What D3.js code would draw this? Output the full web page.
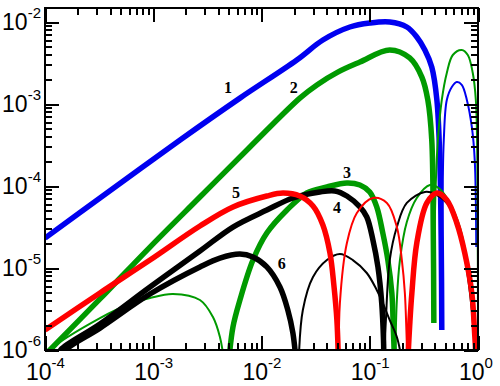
<!DOCTYPE html>
<html lang="en">
<head>
<meta charset="utf-8">
<title>Log-log curves 1-6</title>
<style type="text/css">
	body { margin: 0; background-color: white; }
	svg { display: block; background-color: white; }
	.frame { fill: none; stroke: black; stroke-width: 2; }
	.axis path { display: none; }
	.axis line { stroke: black; stroke-width: 2; shape-rendering: crispEdges; }
	.ticklabel { font-family: "Liberation Sans", Arial, sans-serif; font-size: 23px; fill: black; }
	.curvelabel { font-family: "Liberation Serif", "Times New Roman", serif; font-weight: bold; font-size: 16px; fill: black; }
	.curve { fill: none; stroke-linejoin: round; }
</style>
</head>
<body>
<script src="https://cdnjs.cloudflare.com/ajax/libs/d3/7.8.5/d3.min.js"></script>
<script type="text/javascript">

// tick values
var xDecades = [1e-4, 1e-3, 1e-2, 1e-1, 1];
var yDecades = [1e-6, 1e-5, 1e-4, 1e-3, 1e-2];

// curve 1 (blue)
var c1Pos = [[1e-4,2.32e-5],[3.22e-4,7.14e-5],[1.77e-3,3.64e-4],[6.32e-3,1.18e-3],[2.12e-2,3.44e-3],[3.69e-2,6.03e-3],
	[6.55e-2,8.69e-3],[0.100,9.72e-3],[0.153,1.0e-2],[0.220,8.69e-3],[0.272,6.56e-3],[0.323,4.56e-3],[0.374,2.83e-3],
	[0.417,1.12e-3],[0.444,2.07e-4],[0.458,1.66e-5],[0.463,1.75e-6]];
var c1Neg = [[0.463,1.75e-6],[0.473,1.18e-4],[0.483,3.64e-4],[0.515,1.12e-3],[0.573,1.61e-3],[0.637,1.85e-3],
	[0.708,1.71e-3],[0.789,1.12e-3],[0.877,5.25e-4],[0.933,2.07e-4],[0.964,1.80e-5]];

// curve 2 (green)
var c2Pos = [[1e-4,8.7e-7],[1.11e-4,1.0e-6],[3.22e-4,4.2e-6],[9.33e-4,1.80e-5],[2.70e-3,7.34e-5],[7.82e-3,2.99e-4],
	[2.26e-2,1.18e-3],[3.25e-2,1.71e-3],[5.07e-2,2.45e-3],[8.11e-2,3.25e-3],[0.153,4.56e-3],[0.234,3.64e-3],
	[0.303,2.13e-3],[0.344,1.12e-3],[0.374,3.64e-4],[0.386,2.90e-5],[0.391,2.13e-6]];
var c2Neg = [[0.391,2.13e-6],[0.403,6.75e-5],[0.426,3.64e-4],[0.463,1.12e-3],[0.515,2.39e-3],[0.585,3.96e-3],
	[0.708,4.56e-3],[0.805,3.96e-3],[0.895,2.39e-3],[0.955,1.12e-3],[0.986,2.07e-4],[1.0,3e-7]];

// curve 3 (green)
var c3Neg = [[1e-4,7.98e-7],[1.11e-4,1.0e-6],[3.22e-4,2.45e-6],[6.09e-4,3.64e-6],[9.33e-4,4.31e-6],[1.52e-3,4.82e-6],
	[2.70e-3,4.07e-6],[3.56e-3,2.52e-6],[4.13e-3,1.44e-6],[4.50e-3,7.55e-7]];
var c3Pos = [[5.00e-3,7.55e-7],[5.45e-3,1.91e-6],[6.32e-3,4.07e-6],[8.34e-3,1.25e-5],[1.12e-2,2.67e-5],[1.72e-2,5.09e-5],
	[2.62e-2,8.22e-5],[4.02e-2,9.73e-5],[6.15e-2,1.09e-4],[8.11e-2,1.03e-4],[0.100,8.45e-5],[0.116,5.55e-5],
	[0.132,2.67e-5],[0.147,1.25e-5],[0.160,4.96e-6],[0.165,1.91e-6],[0.169,7.55e-7]];
var c3Neg2 = [[0.172,7.55e-7],[0.178,4.07e-6],[0.190,1.25e-5],[0.220,3.64e-5],[0.272,7.14e-5],[0.359,1.03e-4],
	[0.444,9.19e-5],[0.549,6.21e-5],[0.679,3.16e-5],[0.789,1.25e-5],[0.877,4.69e-6],[0.933,1.75e-6],[0.975,7.55e-7]];

// curve 4 (black)
var c4Pos = [[1.27e-4,7.98e-7],[1.39e-4,1.0e-6],[3.22e-4,2.07e-6],[9.33e-4,5.86e-6],[2.70e-3,1.61e-5],[5.45e-3,3.16e-5],
	[1.12e-2,5.09e-5],[1.95e-2,7.14e-5],[3.46e-2,8.45e-5],[4.76e-2,8.69e-5],[6.15e-2,7.55e-5],[8.11e-2,5.55e-5],
	[9.39e-2,4.19e-5],[0.107,2.19e-5],[0.119,1.03e-5],[0.129,3.74e-6],[0.134,1.32e-6],[0.135,7.55e-7]];
var c4Neg = [[0.136,7.55e-7],[0.141,2.32e-6],[0.153,1.25e-5],[0.178,3.16e-5],[0.220,6.21e-5],[0.323,8.45e-5],
	[0.417,7.76e-5],[0.549,5.55e-5],[0.679,2.67e-5],[0.789,9.46e-6],[0.877,3.08e-6],[0.933,1.09e-6],[0.964,7e-7]];

// curve 5 (red)
var c5Pos = [[1e-4,1.75e-6],[3.22e-4,4.96e-6],[9.33e-4,1.25e-5],[2.70e-3,3.25e-5],[5.45e-3,5.55e-5],[1.12e-2,7.55e-5],
	[1.58e-2,8.22e-5],[2.26e-2,7.55e-5],[2.99e-2,5.70e-5],[3.69e-2,3.34e-5],[4.29e-2,1.52e-5],[4.66e-2,6.21e-6],
	[4.97e-2,2.32e-6],[5.13e-2,7.55e-7]];
var c5Neg = [[5.19e-2,7.55e-7],[5.30e-2,3.74e-6],[6.15e-2,2.02e-5],[7.60e-2,4.69e-5],[0.107,7.14e-5],[0.144,6.21e-5],
	[0.178,3.16e-5],[0.198,1.25e-5],[0.211,4.96e-6],[0.218,1.75e-6],[0.222,7.55e-7]];
var c5Pos2 = [[0.225,7.55e-7],[0.234,2.02e-6],[0.245,4.96e-6],[0.272,2.02e-5],[0.337,6.21e-5],[0.417,8.22e-5],
	[0.515,6.75e-5],[0.637,3.54e-5],[0.755,1.52e-5],[0.877,4.96e-6],[0.933,1.52e-6],[0.964,7e-7]];

// curve 6 (black)
var c6Pos = [[1.42e-4,7.98e-7],[1.55e-4,1.0e-6],[3.22e-4,1.85e-6],[9.33e-4,4.82e-6],[2.70e-3,1.03e-5],[4.13e-3,1.32e-5],
	[6.32e-3,1.48e-5],[8.34e-3,1.36e-5],[1.12e-2,1.03e-5],[1.48e-2,5.86e-6],[1.75e-2,3.08e-6],[1.95e-2,1.61e-6],
	[2.08e-2,7.55e-7]];
var c6Neg = [[2.21e-2,7.55e-7],[2.41e-2,3.08e-6],[2.99e-2,7.76e-6],[4.02e-2,1.25e-5],[5.30e-2,1.48e-5],[6.98e-2,1.25e-5],
	[9.39e-2,8.69e-6],[0.116,5.40e-6],[0.132,3.74e-6],[0.153,2.32e-6],[0.178,1.44e-6],[0.198,7.55e-7]];

// curve number labels
var labelNames = ["1", "2", "3", "4", "5", "6"];
var labelX = [4.90e-3, 1.99e-2, 6.15e-2, 4.97e-2, 5.81e-3, 1.54e-2];
var labelY = [1.57e-3, 1.57e-3, 1.48e-4, 5.40e-5, 8.22e-5, 1.12e-5];

var blue = "#0000f0", green = "#009a00", red = "#ff0000", black = "#000000";
var thick = 5.5, thin = 2;

var series = [
	{ data: c1Pos, color: blue, width: thick },
	{ data: c1Neg, color: blue, width: thin },
	{ data: c2Pos, color: green, width: thick },
	{ data: c2Neg, color: green, width: thin },
	{ data: c3Neg, color: green, width: thin },
	{ data: c3Pos, color: green, width: thick },
	{ data: c3Neg2, color: green, width: thin },
	{ data: c6Pos, color: black, width: thick },
	{ data: c6Neg, color: black, width: thin },
	{ data: c4Pos, color: black, width: thick },
	{ data: c4Neg, color: black, width: thin },
	{ data: c5Pos, color: red, width: thick },
	{ data: c5Neg, color: red, width: thin },
	{ data: c5Pos2, color: red, width: thick }
];

var fullwidth = 500, fullheight = 386;
var plotLeft = 45, plotRight = 478, plotTop = 8, plotBottom = 350;

var svg = d3.select("body").append("svg")
	.attr("width", fullwidth)
	.attr("height", fullheight);

var xScale = d3.scaleLog().domain([1e-4, 1]).range([plotLeft, plotRight]);
var yScale = d3.scaleLog().domain([1e-6, 1e-2]).range([plotBottom, 22]);

function minors(decades) {
	var out = [];
	decades.slice(0, -1).forEach(function(d) {
		for (var k = 2; k <= 9; k++) out.push(k * d);
	});
	return out;
}
var xMinor = minors(xDecades);
var yMinor = minors(yDecades);

svg.append("defs").append("clipPath").attr("id", "plotclip")
	.append("rect")
	.attr("x", plotLeft).attr("y", plotTop)
	.attr("width", plotRight - plotLeft).attr("height", plotBottom - plotTop);

var line = d3.line()
	.x(function(d) { return xScale(d[0]); })
	.y(function(d) { return yScale(d[1]); })
	.curve(d3.curveCatmullRom.alpha(0.5));

svg.append("g")
	.attr("clip-path", "url(#plotclip)")
	.selectAll("path")
	.data(series)
	.join("path")
	.attr("class", "curve")
	.attr("d", function(d) { return line(d.data); })
	.attr("stroke", function(d) { return d.color; })
	.attr("stroke-width", function(d) { return d.width; });

// ticks on all four sides, pointing inward
function tickAxis(axisFn, scale, values, size, transform) {
	svg.append("g")
		.attr("class", "axis")
		.attr("transform", transform)
		.call(axisFn(scale).tickValues(values).tickSize(size).tickFormat(""));
}
tickAxis(d3.axisBottom, xScale, xDecades, -14, "translate(0," + plotBottom + ")");
tickAxis(d3.axisBottom, xScale, xMinor, -7, "translate(0," + plotBottom + ")");
tickAxis(d3.axisTop, xScale, xDecades, -14, "translate(0," + plotTop + ")");
tickAxis(d3.axisTop, xScale, xMinor, -7, "translate(0," + plotTop + ")");
tickAxis(d3.axisLeft, yScale, yDecades, -14, "translate(" + plotLeft + ",0)");
tickAxis(d3.axisLeft, yScale, yMinor, -7, "translate(" + plotLeft + ",0)");
tickAxis(d3.axisRight, yScale, yDecades, -14, "translate(" + plotRight + ",0)");
tickAxis(d3.axisRight, yScale, yMinor, -7, "translate(" + plotRight + ",0)");

svg.append("rect")
	.attr("class", "frame")
	.attr("x", plotLeft).attr("y", plotTop)
	.attr("width", plotRight - plotLeft).attr("height", plotBottom - plotTop);

// tick labels as 10^n
function powerLabel(sel) {
	sel.each(function(d) {
		var t = d3.select(this);
		t.append("tspan").text("10");
		t.append("tspan").attr("dy", -12).attr("font-size", "15px").text(Math.round(Math.log10(d)));
	});
}

svg.selectAll("text.xlabel")
	.data(xDecades)
	.join("text")
	.attr("class", "ticklabel xlabel")
	.attr("x", function(d) { return xScale(d) - 19; })
	.attr("y", 380)
	.call(powerLabel);

svg.selectAll("text.ylabel")
	.data(yDecades)
	.join("text")
	.attr("class", "ticklabel ylabel")
	.attr("text-anchor", "end")
	.attr("x", 41)
	.attr("y", function(d) { return yScale(d) + 8; })
	.call(powerLabel);

svg.selectAll("text.curvelabel")
	.data(labelNames)
	.join("text")
	.attr("class", "curvelabel")
	.attr("text-anchor", "middle")
	.attr("dominant-baseline", "central")
	.attr("x", function(d, i) { return xScale(labelX[i]); })
	.attr("y", function(d, i) { return yScale(labelY[i]); })
	.text(function(d) { return d; });

</script>
</body>
</html>
